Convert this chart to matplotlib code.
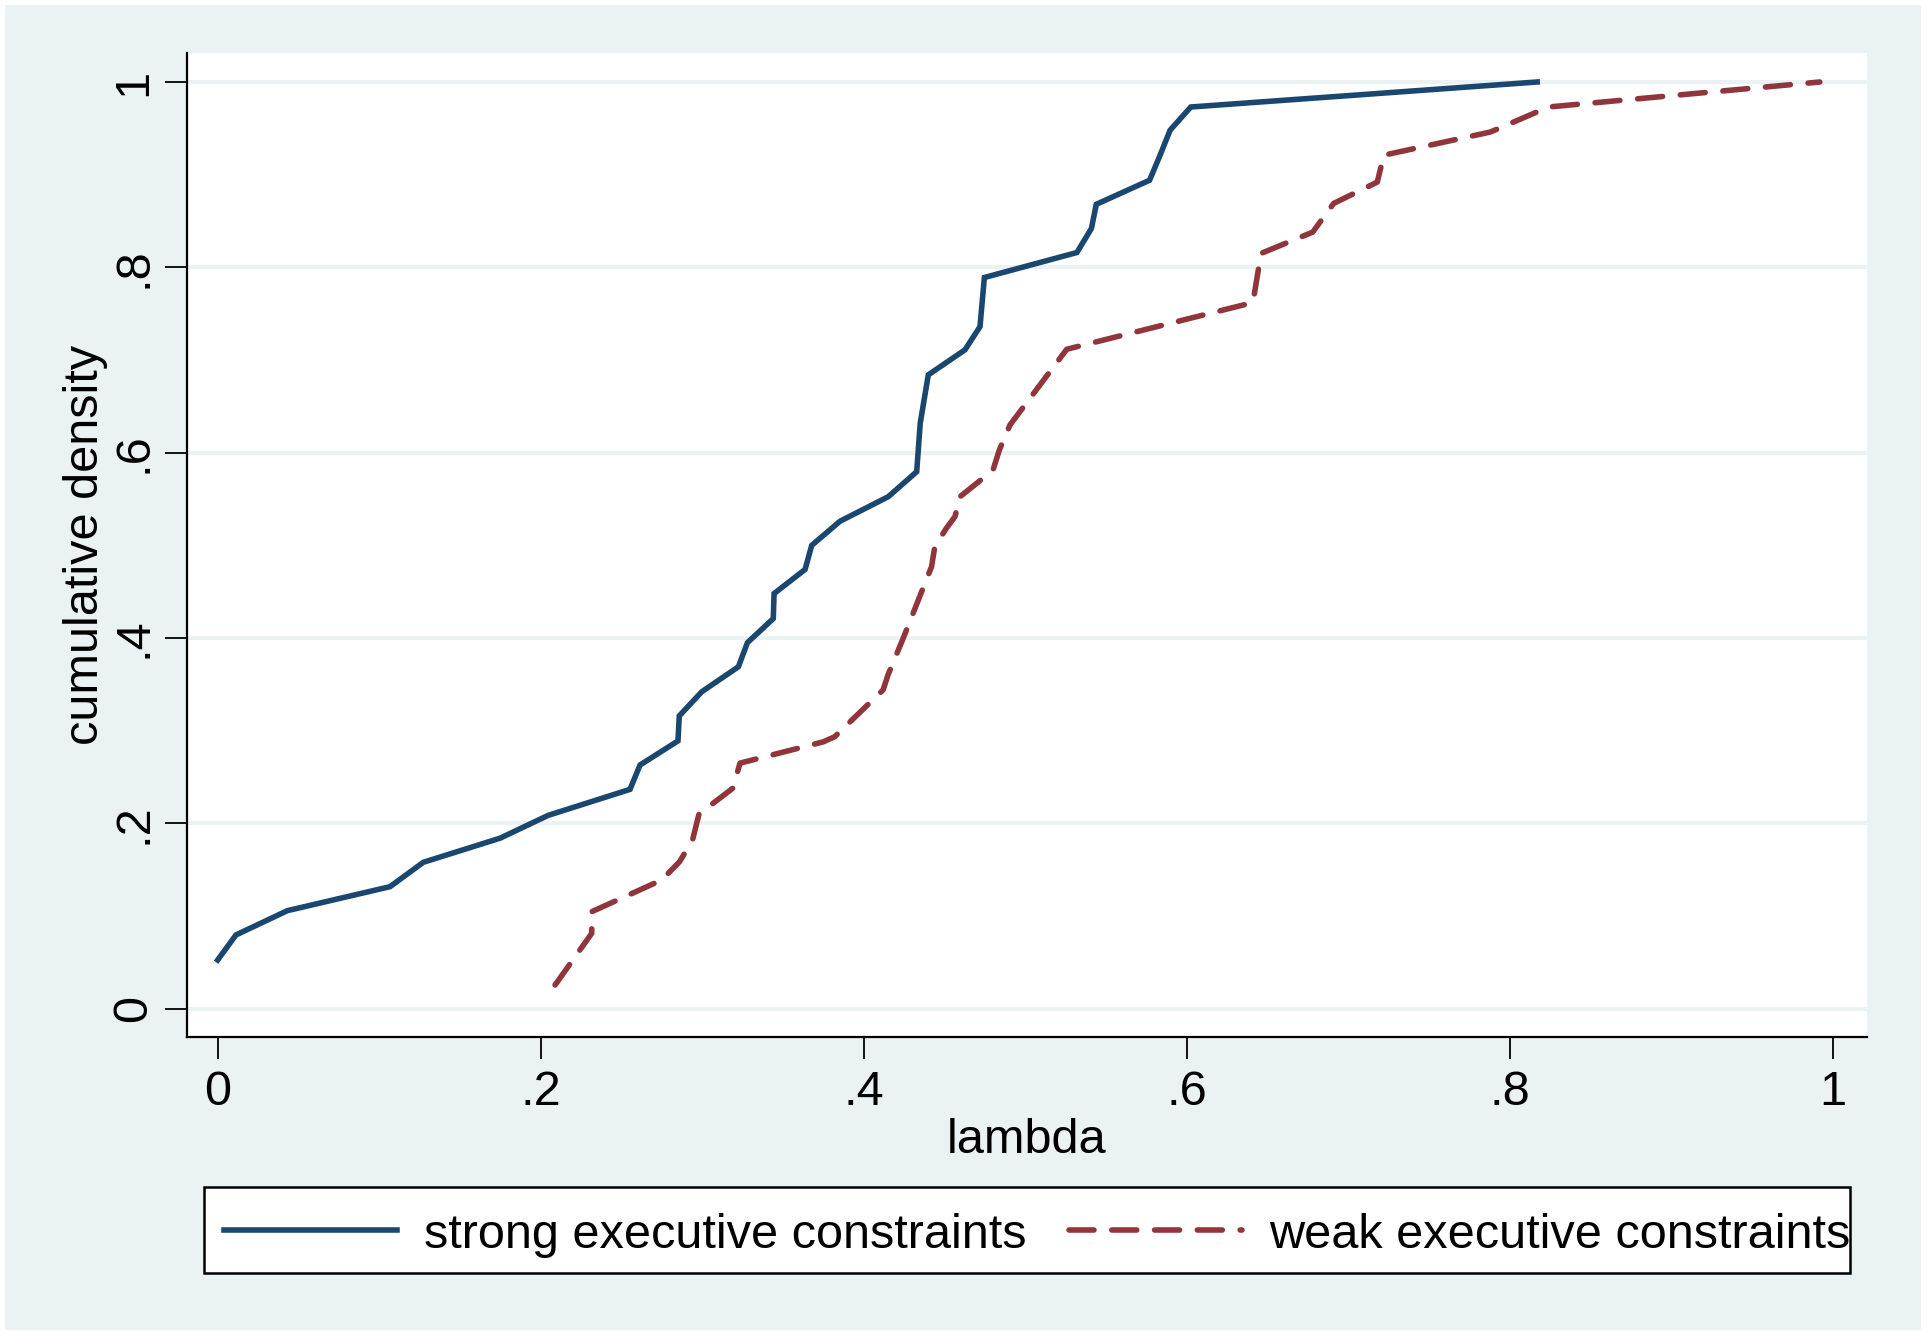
import matplotlib
matplotlib.use("Agg")
import matplotlib.pyplot as plt
from matplotlib.patches import Rectangle

# cumulative densities
strong_x = [0, 0.0113, 0.0431, 0.1067, 0.1273, 0.1748, 0.2047, 0.2553, 0.2615, 0.285,
            0.2858, 0.2997, 0.3224, 0.328, 0.344, 0.3445, 0.3637, 0.3678, 0.3853, 0.4152,
            0.4328, 0.435, 0.440, 0.4627, 0.472, 0.4747, 0.532, 0.541, 0.544, 0.577,
            0.5835, 0.5897, 0.6025, 0.817]
strong_y = [0.0526, 0.0796, 0.1058, 0.1317, 0.158, 0.184, 0.2087, 0.2367, 0.263, 0.289,
            0.316, 0.342, 0.369, 0.395, 0.421, 0.448, 0.474, 0.500, 0.526, 0.5525,
            0.5795, 0.632, 0.684, 0.711, 0.736, 0.789, 0.816, 0.842, 0.868, 0.894,
            0.921, 0.948, 0.973, 1.0]

weak_x = [0.2089, 0.2316, 0.2316, 0.275, 0.286, 0.294, 0.298, 0.319, 0.3234, 0.375,
          0.382, 0.412, 0.415, 0.4245, 0.442, 0.444, 0.451, 0.4565, 0.4596, 0.480,
          0.484, 0.4906, 0.5257, 0.641, 0.646, 0.678, 0.691, 0.718, 0.722, 0.788,
          0.824, 0.992]
weak_y = [0.0256, 0.0814, 0.1047, 0.139, 0.1587, 0.182, 0.21, 0.238, 0.265, 0.288,
          0.2935, 0.344, 0.36, 0.40, 0.477, 0.4985, 0.518, 0.531, 0.5525, 0.581,
          0.603, 0.63, 0.7116, 0.762, 0.815, 0.838, 0.869, 0.892, 0.921, 0.946,
          0.973, 1.0]

ticks = [0, 0.2, 0.4, 0.6, 0.8, 1]
tick_labels = ["0", ".2", ".4", ".6", ".8", "1"]

navy = "#1a476f"
maroon = "#90353b"
bg = "#eaf2f3"

plt.rcParams["font.family"] = ["Liberation Sans", "DejaVu Sans"]
fs = 35

W, H = 1927, 1333
fig = plt.figure(figsize=(W / 100, H / 100), dpi=100, facecolor="white")
fig.patches.append(Rectangle((5 / W, 3 / H), (1921 - 5) / W, (1328 - 3) / H,
                             transform=fig.transFigure, facecolor=bg,
                             edgecolor="none", zorder=-10))

ax = fig.add_axes([187 / W, 1 - 1037 / H, (1867 - 187) / W, (1037 - 52.7) / H])
ax.set_facecolor("white")

for t in ticks:
    ax.axhline(t, color=bg, lw=2.9, zorder=0)

ax.plot(strong_x, strong_y, color=navy, lw=4.0, solid_joinstyle="miter",
        label="strong executive constraints")
ax.plot(weak_x, weak_y, color=maroon, lw=4.0, dashes=(4.5, 3.2),
        dash_capstyle="round", label="weak executive constraints")

ax.set_xlim(-0.019, 1.0212)
ax.set_ylim(-0.0305, 1.0316)
ax.set_xticks(ticks)
ax.set_xticklabels(tick_labels)
ax.set_yticks(ticks)
ax.set_yticklabels(tick_labels)
ax.tick_params(axis="both", labelsize=fs, length=16, width=1.3, color="black")
ax.tick_params(axis="x", pad=8)
ax.tick_params(axis="y", labelrotation=90, pad=6)
for lab in ax.get_yticklabels():
    lab.set_va("center")

for s in ["top", "right"]:
    ax.spines[s].set_visible(False)
for s in ["left", "bottom"]:
    ax.spines[s].set_linewidth(1.6)

ax.set_xlabel("lambda", fontsize=fs)
ax.set_ylabel("cumulative density", fontsize=fs)
ax.xaxis.set_label_coords(0.5, -0.082)
ax.yaxis.set_label_coords(-0.047, 0.5)

# legend box drawn separately so the entries can sit where the reference has them
fig.patches.append(Rectangle((204 / W, 1 - 1273 / H), (1850 - 204) / W, (1273 - 1187) / H,
                             transform=fig.transFigure, facecolor="white",
                             edgecolor="black", lw=1.8, zorder=1))
handles, labels = ax.get_legend_handles_labels()
leg = fig.legend(handles, labels, ncol=2, loc="center left",
                 bbox_to_anchor=(224 / W, 1 - 1235 / H),
                 fontsize=fs, handlelength=3.56, handletextpad=0.56, columnspacing=0.86,
                 frameon=False, borderpad=0, borderaxespad=0)
leg.set_zorder(2)

fig.savefig("out.png", dpi=100, facecolor="white")
